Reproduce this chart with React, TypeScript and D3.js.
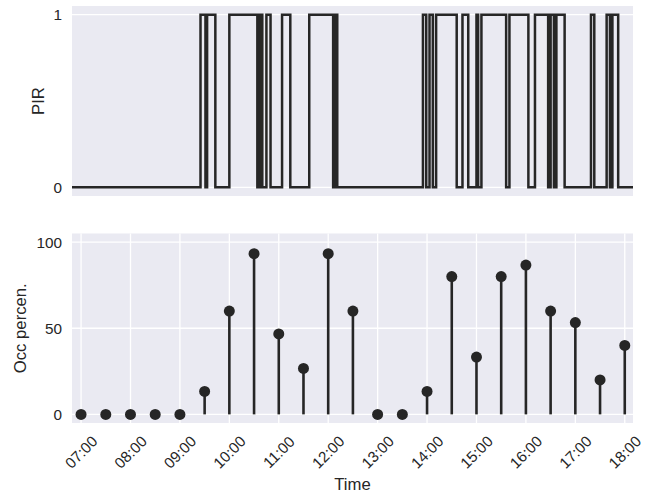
import React from "react";
import * as d3 from "d3";

// stem plot: occupancy percentage every half hour
const occTimes = [
  "07:00", "07:30", "08:00", "08:30", "09:00", "09:30", "10:00", "10:30",
  "11:00", "11:30", "12:00", "12:30", "13:00", "13:30", "14:00", "14:30",
  "15:00", "15:30", "16:00", "16:30", "17:00", "17:30", "18:00",
];
const occValues = [
  0, 0, 0, 0, 0, 13.3, 60, 93.3, 46.7, 26.7, 93.3, 60, 0, 0, 13.3, 80,
  33.3, 80, 86.7, 60, 53.3, 20, 40,
];

// PIR sensor state changes (step after)
const pirTimes = [
  "06:49", "09:25", "09:31", "09:33", "09:43", "10:00", "10:34", "10:37",
  "10:40", "10:45", "10:50", "11:04", "11:14", "11:37",
  "12:06", "12:08", "12:11", "13:55", "13:59", "14:03", "14:07", "14:11",
  "14:36", "14:43", "14:50", "15:00", "15:02", "15:06",
  "15:36", "15:40", "16:03", "16:11", "16:27", "16:30", "16:34", "16:37",
  "16:47", "17:19", "17:23", "17:38", "17:42", "17:45", "17:52", "18:10",
];
const pirValues = [
  0, 1, 0, 1, 0, 1, 0, 1,
  0, 1, 0, 1, 0, 1,
  0, 1, 0, 1, 0, 1, 0, 1,
  0, 1, 0, 1, 0, 1,
  0, 1, 0, 1, 0, 1, 0, 1,
  0, 1, 0, 1, 0, 1, 0, 0,
];

const xTicks = [
  "07:00", "08:00", "09:00", "10:00", "11:00", "12:00",
  "13:00", "14:00", "15:00", "16:00", "17:00", "18:00",
];
const xDomain = ["06:49", "18:10"];
const pirTicks = [0, 1];
const occTicks = [0, 50, 100];

const font = "'Liberation Sans', Arial, sans-serif";
const ink = "#262626";
const bg = "#EAEAF2";

export default function App() {
  const W = 654;
  const H = 496;
  const left = 72;
  const right = 633;
  const top1 = 6;
  const bot1 = 196;
  const top2 = 233.5;
  const bot2 = 423;

  const parse = d3.timeParse("%H:%M");
  const x = d3
    .scaleTime()
    .domain(xDomain.map((t) => parse(t) as Date))
    .range([left, right]);
  const y1 = d3.scaleLinear().domain([-0.05, 1.05]).range([bot1, top1]);
  const y2 = d3.scaleLinear().domain([-5, 105]).range([bot2, top2]);

  const pirData: [Date, number][] = pirTimes.map((t, i) => [
    parse(t) as Date,
    pirValues[i],
  ]);
  const pirLine = d3
    .line<[Date, number]>()
    .x((d) => x(d[0]))
    .y((d) => y1(d[1]))
    .curve(d3.curveStepAfter);

  const fmt = d3.timeFormat("%H:%M");

  return (
    <svg
      width={W}
      height={H}
      style={{ position: "absolute", left: 0, top: 0, display: "block" }}
      fontFamily={font}
    >
      <rect width={W} height={H} fill="#fff" />

      {/* top panel */}
      <rect x={left} y={top1} width={right - left} height={bot1 - top1} fill={bg} />
      {pirTicks.map((t) => (
        <g key={"p" + t}>
          <line x1={left} x2={right} y1={y1(t)} y2={y1(t)} stroke="#fff" strokeWidth={1.3} />
          <text
            x={left - 10}
            y={y1(t)}
            textAnchor="end"
            dominantBaseline="central"
            fontSize={15.3}
            fill={ink}
          >
            {t}
          </text>
        </g>
      ))}
      <path d={pirLine(pirData) ?? ""} fill="none" stroke={ink} strokeWidth={2.5} />
      <text
        transform={`translate(${38},${(top1 + bot1) / 2}) rotate(-90)`}
        textAnchor="middle"
        dominantBaseline="central"
        fontSize={16.7}
        fill={ink}
      >
        PIR
      </text>

      {/* bottom panel */}
      <rect x={left} y={top2} width={right - left} height={bot2 - top2} fill={bg} />
      {xTicks.map((t) => {
        const d = parse(t) as Date;
        const px = x(d);
        return (
          <g key={"x" + t}>
            <line x1={px} x2={px} y1={top2} y2={bot2} stroke="#fff" strokeWidth={1.3} />
            <text
              transform={`translate(${px},${452}) rotate(-45)`}
              textAnchor="middle"
              dominantBaseline="central"
              fontSize={15.3}
              fill={ink}
            >
              {fmt(d)}
            </text>
          </g>
        );
      })}
      {occTicks.map((t) => (
        <g key={"o" + t}>
          <line x1={left} x2={right} y1={y2(t)} y2={y2(t)} stroke="#fff" strokeWidth={1.3} />
          <text
            x={left - 10}
            y={y2(t)}
            textAnchor="end"
            dominantBaseline="central"
            fontSize={15.3}
            fill={ink}
          >
            {t}
          </text>
        </g>
      ))}
      {occTimes.map((t, i) => {
        const px = x(parse(t) as Date);
        return (
          <g key={"s" + t}>
            <line
              x1={px}
              x2={px}
              y1={y2(0)}
              y2={y2(occValues[i])}
              stroke={ink}
              strokeWidth={2.6}
            />
            <circle cx={px} cy={y2(occValues[i])} r={5.5} fill={ink} />
          </g>
        );
      })}
      <text
        transform={`translate(${20},${(top2 + bot2) / 2}) rotate(-90)`}
        textAnchor="middle"
        dominantBaseline="central"
        fontSize={16.7}
        fill={ink}
      >
        Occ percen.
      </text>
      <text x={(left + right) / 2} y={490} textAnchor="middle" fontSize={16.7} fill={ink}>
        Time
      </text>
    </svg>
  );
}
